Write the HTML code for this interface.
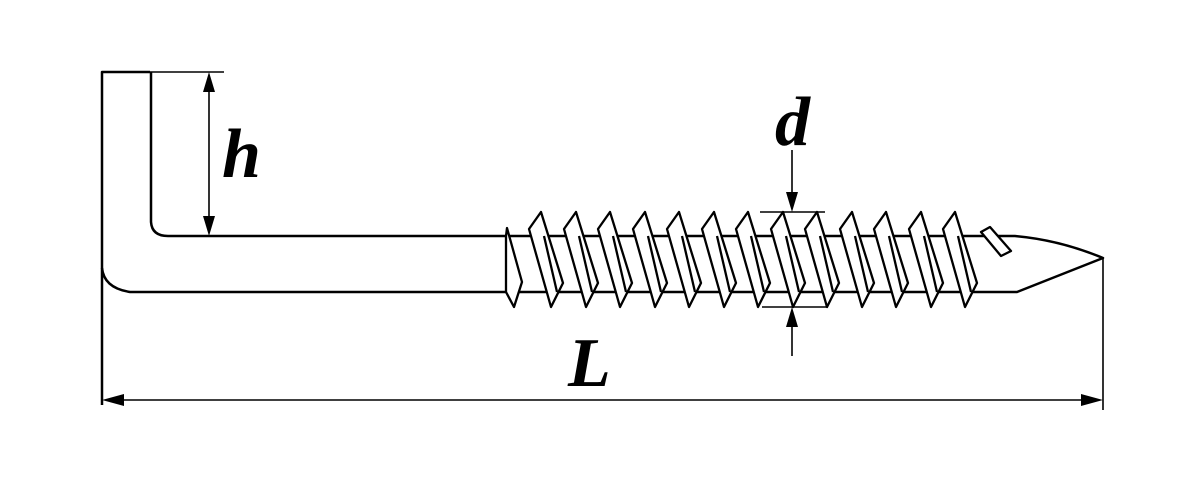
<!DOCTYPE html>
<html><head><style>html,body{margin:0;padding:0;background:#fff}svg{display:block}</style></head>
<body>
<svg width="1202" height="502" viewBox="0 0 1202 502" xmlns="http://www.w3.org/2000/svg">
<g fill="none" stroke="#000" stroke-width="2.5" stroke-linejoin="round">
 <path d="M102,405 V72 H150"/>
 <path d="M102,268 Q104,288 130,292 H500"/>
 <path d="M151,72 V222 Q152,236 168,236 H500"/>
 <path d="M500,236 H1015 Q1060,240 1103,258 L1017,292 H500"/>
</g>
<g fill="#fff" stroke="#000" stroke-width="2.3" stroke-linejoin="round">
 <polygon points="506,236 507,228 522,282 514,307 506,292"/>
 <polygon points="529,229 541,212 563,283 551,307"/><line x1="544" y1="236" x2="557" y2="292"/>
 <polygon points="564,229 576,212 598,283 586,307"/><line x1="579" y1="236" x2="592" y2="292"/>
 <polygon points="598,229 610,212 632,283 620,307"/><line x1="613" y1="236" x2="626" y2="292"/>
 <polygon points="633,229 645,212 667,283 655,307"/><line x1="648" y1="236" x2="661" y2="292"/>
 <polygon points="667,229 679,212 701,283 689,307"/><line x1="682" y1="236" x2="695" y2="292"/>
 <polygon points="702,229 714,212 736,283 724,307"/><line x1="717" y1="236" x2="730" y2="292"/>
 <polygon points="736,229 748,212 770,283 758,307"/><line x1="751" y1="236" x2="764" y2="292"/>
 <polygon points="771,229 783,212 805,283 793,307"/><line x1="786" y1="236" x2="799" y2="292"/>
 <polygon points="805,229 817,212 839,283 827,307"/><line x1="820" y1="236" x2="833" y2="292"/>
 <polygon points="840,229 852,212 874,283 862,307"/><line x1="855" y1="236" x2="868" y2="292"/>
 <polygon points="874,229 886,212 908,283 896,307"/><line x1="889" y1="236" x2="902" y2="292"/>
 <polygon points="909,229 921,212 943,283 931,307"/><line x1="924" y1="236" x2="937" y2="292"/>
 <polygon points="943,229 955,212 977,283 965,307"/><line x1="958" y1="236" x2="971" y2="292"/>
 <polygon points="981,232 990,227 1011,251 1001,256"/>
</g>
<g stroke="#000" stroke-width="1.6" fill="none">
 <path d="M150,72 H224"/>
 <path d="M209,80 V228"/>
 <path d="M760,212 H825"/>
 <path d="M762,307 H828"/>
 <path d="M792,150 V200"/>
 <path d="M792,319 V356"/>
 <path d="M1103,258 V410"/>
 <path d="M112,400 H1093"/>
</g>
<g fill="#000">
 <polygon points="209,72 203,92 215,92"/>
 <polygon points="209,236 203,216 215,216"/>
 <polygon points="792,212 786,192 798,192"/>
 <polygon points="792,307 786,327 798,327"/>
 <polygon points="102,400 124,394 124,406"/>
 <polygon points="1103,400 1081,394 1081,406"/>
</g>
<g font-family="'Liberation Serif',serif" font-style="italic" font-weight="bold" font-size="70" fill="#000">
 <text x="222" y="177">h</text>
 <text x="775" y="145">d</text>
 <text x="568" y="386">L</text>
</g>
</svg>
</body></html>
